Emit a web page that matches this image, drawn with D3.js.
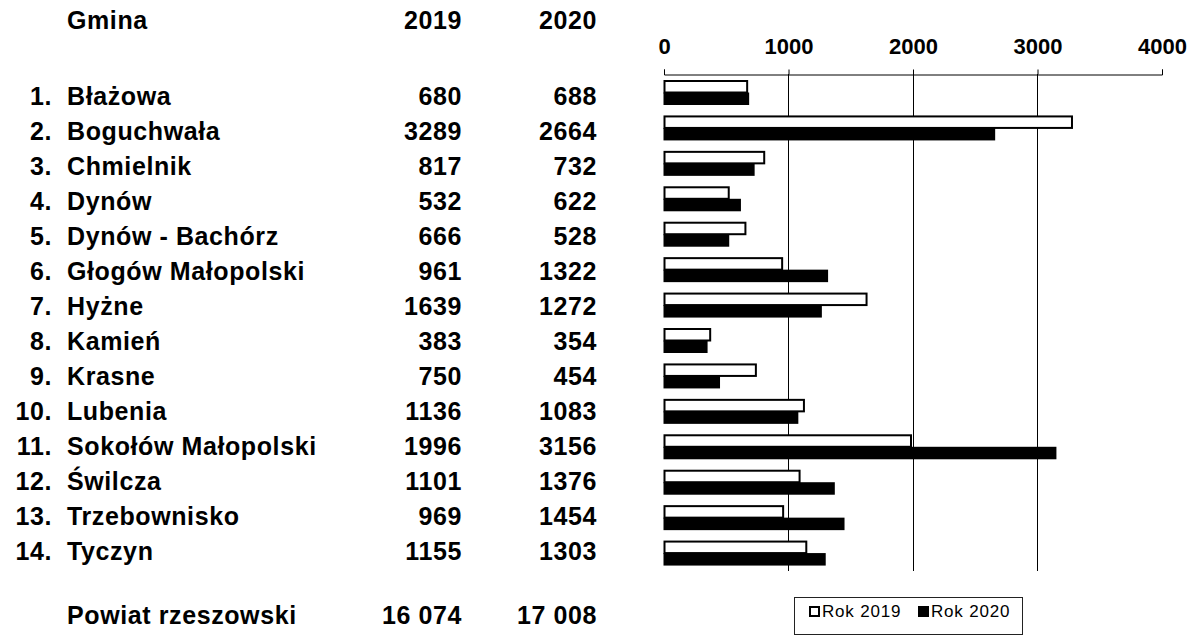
<!DOCTYPE html>
<html>
<head>
<meta charset="utf-8">
<script src="https://cdn.jsdelivr.net/npm/d3@7"></script>
<style>
  body { margin: 0; background: #fff; }
  text { font-family: "Liberation Sans", Arial, sans-serif; }
</style>
</head>
<body>
<div id="chart"></div>
<script>
// frame
const FRAME_WIDTH = 1193;
const FRAME_HEIGHT = 637;

// data
const gminy = ["Błażowa", "Boguchwała", "Chmielnik", "Dynów", "Dynów - Bachórz",
  "Głogów Małopolski", "Hyżne", "Kamień", "Krasne", "Lubenia",
  "Sokołów Małopolski", "Świlcza", "Trzebownisko", "Tyczyn"];
const vals2019 = [680, 3289, 817, 532, 666, 961, 1639, 383, 750, 1136, 1996, 1101, 969, 1155];
const vals2020 = [688, 2664, 732, 622, 528, 1322, 1272, 354, 454, 1083, 3156, 1376, 1454, 1303];
const years = ["2019", "2020"];
const totalLabel = "Powiat rzeszowski";
const totals = ["16 074", "17 008"];
const xTicks = [0, 1000, 2000, 3000, 4000];
const legendLabels = ["Rok 2019", "Rok 2020"];

const rows = gminy.map((g, i) => ({name: g, idx: i + 1, v2019: vals2019[i], v2020: vals2020[i]}));

const svg = d3.select('#chart')
  .append('svg')
    .attr('width', FRAME_WIDTH)
    .attr('height', FRAME_HEIGHT);

const AXIS_Y = 74;
const GRID_BOTTOM = 571;

// row scale for the table text
const rowScale = d3.scaleBand()
  .domain(gminy)
  .range([70, 560]);
const baseline = d => rowScale(d) + rowScale.bandwidth();

// row scale for the bars
const yScale = d3.scaleBand()
  .domain(gminy)
  .range([AXIS_Y + 1, GRID_BOTTOM]);

// ----- table -----
const table = svg.append('g')
  .style('font-weight', 'bold')
  .style('font-size', '25px')
  .style('letter-spacing', '0.6px')
  .attr('fill', '#000');

// header
table.append('text').attr('x', 67).attr('y', 29).text('Gmina');
table.append('text').attr('x', 462).attr('y', 29).attr('text-anchor', 'end').text(years[0]);
table.append('text').attr('x', 597).attr('y', 29).attr('text-anchor', 'end').text(years[1]);

const rowG = table.selectAll('.row')
  .data(rows)
  .enter()
  .append('g')
  .attr('class', 'row');

rowG.append('text')
  .attr('x', 52).attr('y', d => baseline(d.name))
  .attr('text-anchor', 'end')
  .text(d => d.idx + '.');
rowG.append('text')
  .attr('x', 67).attr('y', d => baseline(d.name))
  .text(d => d.name);
rowG.append('text')
  .attr('x', 462).attr('y', d => baseline(d.name))
  .attr('text-anchor', 'end')
  .text(d => d.v2019);
rowG.append('text')
  .attr('x', 597).attr('y', d => baseline(d.name))
  .attr('text-anchor', 'end')
  .text(d => d.v2020);

// total row
table.append('text').attr('x', 67).attr('y', 624).text(totalLabel);
table.append('text').attr('x', 462).attr('y', 624).attr('text-anchor', 'end').text(totals[0]);
table.append('text').attr('x', 597).attr('y', 624).attr('text-anchor', 'end').text(totals[1]);

// ----- bar chart -----
const xScale = d3.scaleLinear()
  .domain([0, 4000])
  .range([663.5, 1161.5]);

// gridlines
svg.append('g')
  .selectAll('line')
  .data(xTicks.filter(t => t > 0 && t < 4000))
  .enter()
  .append('line')
    .attr('x1', d => Math.round(xScale(d)) + 0.5)
    .attr('x2', d => Math.round(xScale(d)) + 0.5)
    .attr('y1', AXIS_Y)
    .attr('y2', GRID_BOTTOM)
    .attr('stroke', '#000')
    .attr('stroke-width', 1);

// top axis
const axis = svg.append('g')
  .attr('transform', 'translate(0.5,' + (AXIS_Y + 0.5) + ')')
  .call(d3.axisTop(xScale).tickValues(xTicks).tickFormat(d3.format('d')).tickSize(5).tickPadding(16));
axis.select('.domain').attr('stroke', '#000');
axis.selectAll('.tick line').attr('stroke', '#000');
axis.selectAll('.tick text')
  .attr('fill', '#000')
  .style('font-family', '"Liberation Sans", Arial, sans-serif')
  .style('font-size', '22px')
  .style('font-weight', 'bold');

// sub-band scale for years inside a row
const ySub = d3.scaleBand()
  .domain(years)
  .range([5, 30]);

const barG = svg.append('g')
  .selectAll('g')
  .data(rows)
  .enter()
  .append('g')
  .attr('transform', d => 'translate(0,' + yScale(d.name) + ')');

// 2019 - white with black outline
barG.append('rect')
  .attr('x', xScale(0) + 1)
  .attr('y', ySub('2019') + 1)
  .attr('width', d => xScale(d.v2019) - xScale(0) - 2)
  .attr('height', ySub.bandwidth() - 1)
  .attr('fill', '#fff')
  .attr('stroke', '#000')
  .attr('stroke-width', 2);

// 2020 - black
barG.append('rect')
  .attr('x', xScale(0))
  .attr('y', ySub('2020'))
  .attr('width', d => xScale(d.v2020) - xScale(0))
  .attr('height', ySub.bandwidth())
  .attr('fill', '#000');

// legend
const legend = svg.append('g').attr('transform', 'translate(794,597)');
legend.append('rect')
  .attr('x', 0.5).attr('y', 0.5)
  .attr('width', 228).attr('height', 37)
  .attr('fill', '#fff')
  .attr('stroke', '#222')
  .attr('stroke-width', 1);

const legendX = [15, 124];
legendLabels.forEach((lab, i) => {
  legend.append('rect')
    .attr('x', legendX[i] + (i === 0 ? 1 : 0))
    .attr('y', i === 0 ? 10 : 9)
    .attr('width', i === 0 ? 9 : 11)
    .attr('height', i === 0 ? 9 : 11)
    .attr('fill', i === 0 ? '#fff' : '#000')
    .attr('stroke', i === 0 ? '#000' : 'none')
    .attr('stroke-width', 2);
  legend.append('text')
    .attr('x', legendX[i] + 13)
    .attr('y', 20)
    .style('font-size', '17px')
    .style('letter-spacing', '0.8px')
    .attr('fill', '#000')
    .text(lab);
});
</script>
</body>
</html>
